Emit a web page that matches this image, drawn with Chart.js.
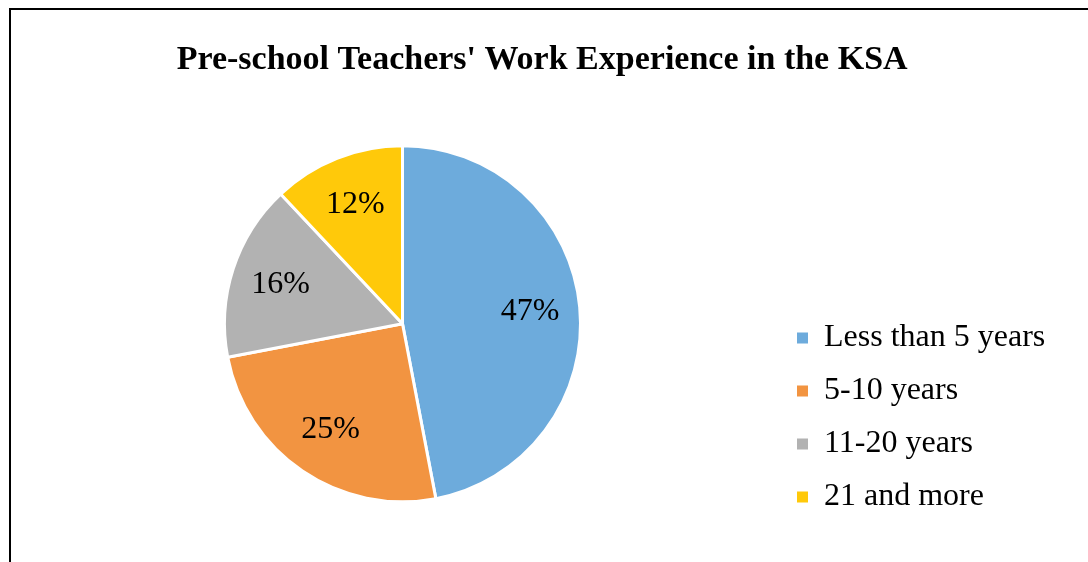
<!DOCTYPE html>
<html>
<head>
<meta charset="utf-8">
<script src="https://cdn.jsdelivr.net/npm/chart.js@4"></script>
<style>
    html, body { margin: 0; padding: 0; background: #fff; overflow: hidden; }
    #frame { position: absolute; left: 9px; top: 8px; width: 1200px; height: 700px;
             border-top: 2px solid #000; border-left: 2px solid #000; }
    #grafico { position: absolute; left: 0; top: 0; }
</style>
</head>
<body>
<div id="frame"></div>
<canvas id="grafico" width="1088" height="562"></canvas>
<script>
// datos del grafico
let categorias = ['Less than 5 years', '5-10 years', '11-20 years', '21 and more'];
let valores = [47, 25, 16, 12];
let colores = ['#6DABDC', '#F29441', '#B2B2B2', '#FFC90A'];
let titulo = "Pre-school Teachers' Work Experience in the KSA";

let fuente = '"Liberation Serif", "Times New Roman", serif';
let legendFont = 32;
let legendBox = 11;
let legendPad = 21;

// ancho del texto mas largo de la leyenda, para cuadrar el area del grafico
let medir = document.createElement('canvas').getContext('2d');
medir.font = legendFont + 'px ' + fuente;
let textoMax = Math.max(...categorias.map(t => medir.measureText(t).width));
let anchoLeyenda = legendPad + legendBox + legendFont / 2 + textoMax + 10;
let finArea = 776;

// etiquetas de porcentaje dentro de cada porcion
const etiquetas = {
    id: 'etiquetas',
    afterDatasetsDraw(chart) {
        const ctx = chart.ctx;
        const meta = chart.getDatasetMeta(0);
        ctx.save();
        ctx.font = '32px ' + fuente;
        ctx.fillStyle = '#000';
        ctx.textAlign = 'center';
        ctx.textBaseline = 'middle';
        meta.data.forEach((arc, i) => {
            const p = arc.getProps(['x', 'y', 'startAngle', 'endAngle', 'outerRadius'], true);
            const mid = (p.startAngle + p.endAngle) / 2;
            const r = p.outerRadius * 0.72;
            ctx.fillText(valores[i] + '%', p.x + Math.cos(mid) * r, p.y + Math.sin(mid) * r);
        });
        ctx.restore();
    }
};

Chart.defaults.color = '#000';

let grafico = new Chart(document.getElementById('grafico'), {
    type: 'pie',
    data: {
        labels: categorias,
        datasets: [{
            data: valores,
            backgroundColor: colores,
            borderColor: '#fff',
            borderWidth: 3,
            hoverOffset: 0
        }]
    },
    options: {
        responsive: false,
        animation: false,
        radius: 178,
        layout: {
            padding: { left: 29, right: 1088 - finArea - anchoLeyenda, top: 0, bottom: 28 }
        },
        plugins: {
            title: {
                display: true,
                text: titulo,
                color: '#000',
                font: { family: fuente, size: 34, weight: 'bold', lineHeight: 1.2 },
                padding: { top: 39.4, bottom: 33.4 }
            },
            legend: {
                position: 'right',
                align: 'end',
                labels: {
                    boxWidth: legendBox,
                    boxHeight: legendBox,
                    padding: legendPad,
                    color: '#000',
                    font: { family: fuente, size: legendFont },
                    // cuadrados sin el borde blanco de las porciones
                    generateLabels: (chart) => {
                        let items = Chart.overrides.pie.plugins.legend.labels.generateLabels(chart);
                        items.forEach(it => { it.lineWidth = 0; it.strokeStyle = it.fillStyle; });
                        return items;
                    }
                }
            },
            tooltip: { enabled: false }
        }
    },
    plugins: [etiquetas]
});
</script>
</body>
</html>
